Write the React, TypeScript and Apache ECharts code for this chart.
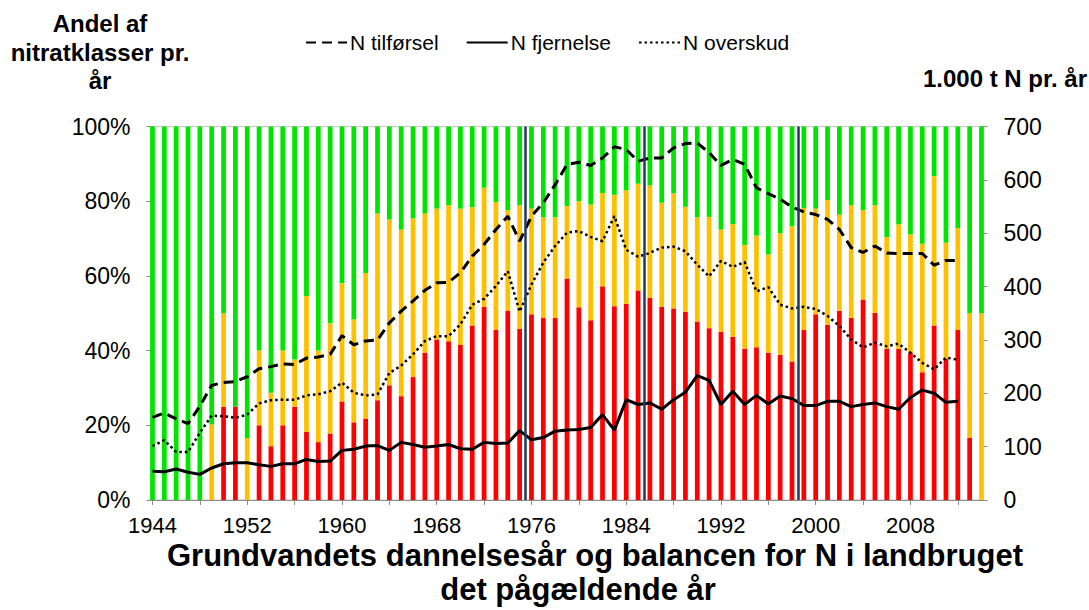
import React, { useEffect, useRef } from "react";
import * as echarts from "echarts";

const FONT = '"Liberation Sans", Arial, Helvetica, sans-serif';

// Categories: groundwater formation years 1944–2014
const years: string[] = Array.from({ length: 71 }, (_, i) => String(1944 + i));
const xLabelEvery = 8;
const xTickEvery = 4;

// Share of nitrate classes per year (%)
const redShare = [
  0, 0, 0, 0, 0, 0, 25, 25, 0, 20,
  14.4, 20, 25, 18.3, 15.5, 17.8, 26.4, 20.8, 21.8, 26.7,
  30.7, 27.8, 32.9, 39.4, 43, 42.5, 41.5, 46.7, 51.7, 45.5,
  50.6, 45.8, 49.7, 48.7, 48.7, 59.3, 51.6, 48.1, 57.2, 51.9,
  52.5, 56.1, 54.1, 51.7, 51.3, 50.4, 47.8, 46, 45, 43.7,
  40.5, 40.9, 39.4, 38.9, 37.1, 45.5, 49.7, 46.9, 50.7, 48.7,
  53.7, 50.1, 40.5, 40.5, 39.4, 34.2, 46.7, 37.8, 45.5, 16.6,
  0,
];
const yellowShare = [
  0, 0, 0, 0, 0, 20.2, 25, 0, 16.6, 20,
  14.3, 20, 12.6, 36.3, 24.5, 29.5, 31.6, 27.5, 39, 50,
  44.4, 44.6, 42.5, 37.3, 35, 36.4, 36.5, 31.7, 31.9, 34.3,
  27, 33.1, 28.3, 27, 27, 19.4, 28.4, 31, 25, 29.8,
  30.4, 28.6, 30.1, 27.9, 30.8, 28.1, 27.9, 29.8, 27.4, 30.2,
  27.8, 29.9, 26.3, 32.5, 36.2, 32.7, 28.3, 33.4, 25.7, 30.2,
  23.9, 28.8, 29.9, 33.3, 31.7, 34.4, 40, 31.1, 27.3, 33.5,
  50,
];
const greenShare = redShare.map((r, i) => Math.round((100 - r - yellowShare[i]) * 10) / 10);

// N balance in agriculture, 1.000 t N per year (1944–2012)
const nTilfoersel = [
  155, 163, 152, 143, 176, 215, 220, 222, 231, 246,
  250, 255, 254, 266, 268, 273, 308, 291, 298, 300,
  332, 354, 373, 393, 407, 408, 426, 457, 479, 507,
  532, 485, 532, 557, 591, 629, 633, 627, 641, 662,
  657, 635, 641, 641, 660, 668, 669, 651, 627, 638,
  629, 585, 574, 564, 549, 540, 535, 526, 507, 473,
  464, 476, 463, 462, 462, 462, 440, 449, 449,
];
const nFjernelse = [
  54, 53, 58, 52, 48, 60, 68, 70, 70, 66,
  63, 68, 68, 76, 72, 73, 93, 95, 101, 102,
  93, 108, 104, 99, 101, 104, 96, 95, 108, 106,
  107, 130, 113, 117, 129, 131, 132, 136, 160, 131,
  188, 179, 182, 170, 188, 202, 233, 224, 179, 204,
  179, 196, 180, 195, 190, 177, 177, 185, 185, 175,
  179, 182, 175, 170, 192, 206, 200, 183, 185,
];
const nOverskud = [
  101, 112, 90, 90, 126, 158, 157, 154, 160, 181,
  187, 188, 188, 196, 198, 204, 220, 201, 196, 198,
  238, 252, 273, 298, 307, 307, 329, 366, 377, 401,
  429, 353, 404, 445, 476, 501, 504, 493, 485, 532,
  469, 456, 463, 473, 475, 466, 441, 419, 448, 437,
  446, 391, 399, 366, 359, 362, 358, 345, 326, 301,
  286, 295, 288, 293, 276, 257, 245, 267, 263,
];

// Vertical separator lines (year positions)
const markerYears = [1975.5, 1985.5, 1998.5];

const leftTicks = { min: 0, max: 100, interval: 20 };
const rightTicks = { min: 0, max: 700, interval: 100 };

const AXIS_GREY = "#8c8c8c";

export default function App() {
  const ref = useRef<HTMLDivElement>(null);

  useEffect(() => {
    if (!ref.current) return;
    const chart = echarts.init(ref.current, undefined, { renderer: "svg" });

    const barBase = {
      type: "bar" as const,
      stack: "share",
      barWidth: "40%",
      xAxisIndex: 0,
      yAxisIndex: 0,
      silent: true,
      clip: true,
    };

    const option: any = {
      animation: false,
      backgroundColor: "#ffffff",
      textStyle: { fontFamily: FONT },
      grid: {
        left: 152.5,
        right: 107.5,
        top: 126.5,
        bottom: 110,
        show: true,
        borderColor: "#c8c8c8",
        borderWidth: 1,
        backgroundColor: "transparent",
      },
      legend: {
        data: ["N tilførsel", "N fjernelse", "N overskud"],
        left: 300,
        top: 27,
        itemWidth: 41,
        itemHeight: 14,
        itemGap: 27,
        itemStyle: { opacity: 0, borderWidth: 0 },
        textStyle: { fontSize: 21, color: "#000", fontFamily: FONT, padding: [0, 0, 0, -2] },
      },
      xAxis: [
        {
          type: "category",
          data: years,
          boundaryGap: false,
          axisLine: { show: true, lineStyle: { color: AXIS_GREY, width: 1 } },
          axisTick: {
            show: true,
            interval: xTickEvery - 1,
            length: 5,
            lineStyle: { color: AXIS_GREY },
          },
          axisLabel: {
            interval: xLabelEvery - 1,
            fontSize: 22,
            color: "#000",
            margin: 14,
            fontFamily: FONT,
          },
          splitLine: { show: false },
        },
        { type: "value", min: 1944, max: 2014, show: false },
      ],
      yAxis: [
        {
          type: "value",
          ...leftTicks,
          axisLabel: {
            formatter: "{value}%",
            fontSize: 23,
            color: "#000",
            margin: 22,
            fontFamily: FONT,
          },
          axisLine: { show: true, lineStyle: { color: AXIS_GREY } },
          axisTick: { show: true, length: 6, lineStyle: { color: AXIS_GREY } },
          splitLine: { show: false },
        },
        {
          type: "value",
          position: "right",
          ...rightTicks,
          axisLabel: {
            fontSize: 23,
            color: "#000",
            margin: 22,
            fontFamily: FONT,
          },
          axisLine: { show: true, lineStyle: { color: AXIS_GREY } },
          axisTick: { show: true, length: 6, lineStyle: { color: AXIS_GREY } },
          splitLine: { show: false },
        },
      ],
      series: [
        { ...barBase, name: "Nitrat høj", data: redShare, itemStyle: { color: "#ff0000" } },
        { ...barBase, name: "Nitrat middel", data: yellowShare, itemStyle: { color: "#ffc000" } },
        { ...barBase, name: "Nitrat lav", data: greenShare, itemStyle: { color: "#00e400" } },
        {
          type: "line",
          name: "N tilførsel",
          data: nTilfoersel,
          yAxisIndex: 1,
          symbol: "none",
          silent: true,
          z: 4,
          lineStyle: { color: "#000", width: 3, type: [10, 6] },
          itemStyle: { color: "#000" },
        },
        {
          type: "line",
          name: "N fjernelse",
          data: nFjernelse,
          yAxisIndex: 1,
          symbol: "none",
          silent: true,
          z: 4,
          lineStyle: { color: "#000", width: 3, type: "solid" },
          itemStyle: { color: "#000" },
        },
        {
          type: "line",
          name: "N overskud",
          data: nOverskud,
          yAxisIndex: 1,
          symbol: "none",
          silent: true,
          z: 4,
          lineStyle: { color: "#000", width: 2.5, type: [2.5, 3] },
          itemStyle: { color: "#000" },
        },
        {
          type: "line",
          name: "skillelinjer",
          xAxisIndex: 1,
          yAxisIndex: 0,
          data: [],
          silent: true,
          z: 6,
          markLine: {
            silent: true,
            symbol: "none",
            label: { show: false },
            lineStyle: { color: "#1f3a60", width: 2.5, type: "solid" },
            data: markerYears.map((v) => ({ xAxis: v })),
          },
        },
      ],
      graphic: [
        {
          type: "text",
          x: 100,
          y: 52,
          silent: true,
          style: {
            text: "Andel af\nnitratklasser pr.\når",
            fontSize: 24,
            fontWeight: "bold",
            fontFamily: FONT,
            lineHeight: 28.5,
            textAlign: "center",
            textVerticalAlign: "middle",
            fill: "#000",
          },
        },
        {
          type: "text",
          x: 1005,
          y: 78,
          silent: true,
          style: {
            text: "1.000 t N pr. år",
            fontSize: 24,
            fontWeight: "bold",
            fontFamily: FONT,
            textAlign: "center",
            textVerticalAlign: "middle",
            fill: "#000",
          },
        },
        {
          type: "text",
          x: 595,
          y: 555,
          silent: true,
          style: {
            text: "Grundvandets dannelsesår og balancen for N i landbruget",
            fontSize: 31,
            fontWeight: "bold",
            fontFamily: FONT,
            textAlign: "center",
            textVerticalAlign: "middle",
            fill: "#000",
          },
        },
        {
          type: "text",
          x: 578,
          y: 589,
          silent: true,
          style: {
            text: "det pågældende år",
            fontSize: 31,
            fontWeight: "bold",
            fontFamily: FONT,
            textAlign: "center",
            textVerticalAlign: "middle",
            fill: "#000",
          },
        },
      ],
    };

    chart.setOption(option);
    return () => chart.dispose();
  }, []);

  return (
    <div
      ref={ref}
      style={{ position: "fixed", left: 0, top: 0, width: 1089, height: 610, background: "#fff" }}
    />
  );
}
